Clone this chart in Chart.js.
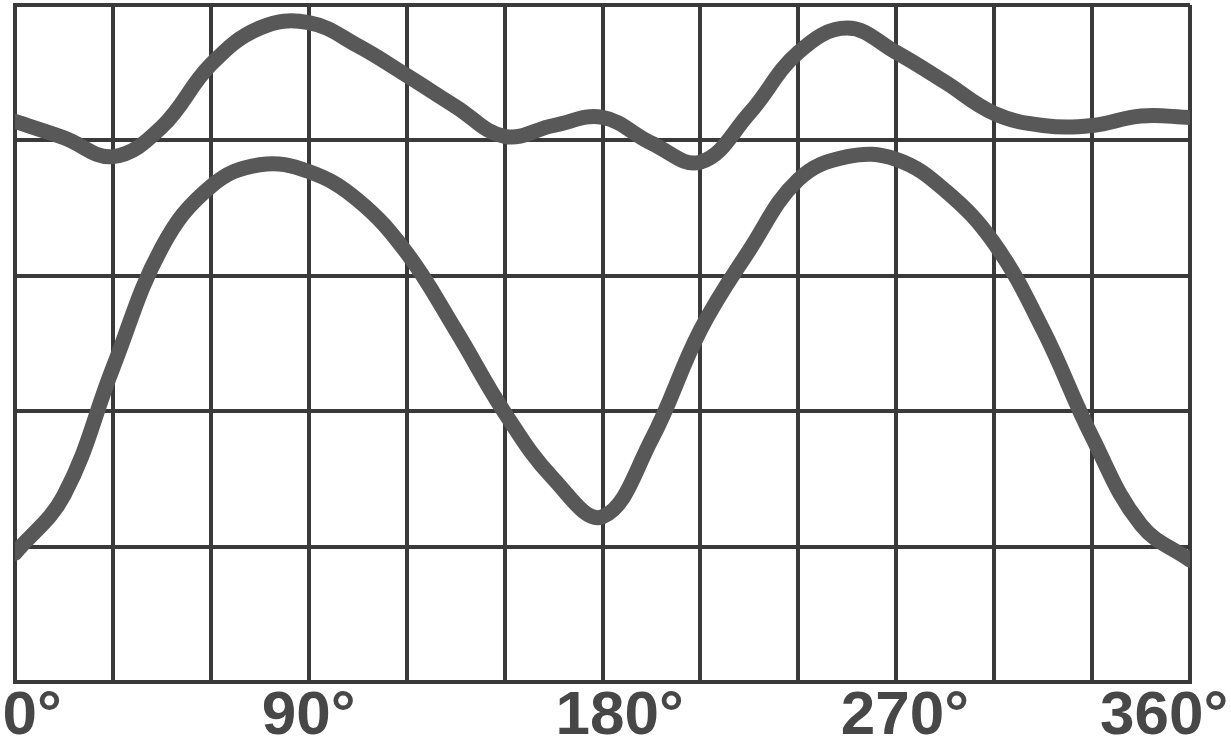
<!DOCTYPE html>
<html>
<head>
<meta charset="utf-8">
<script src="https://cdn.jsdelivr.net/npm/chart.js@4/dist/chart.umd.min.js"></script>
<style>
  html, body { margin: 0; padding: 0; background: #ffffff; }
  #wrap { position: relative; width: 1231px; height: 749px; }
</style>
</head>
<body>
<div id="wrap"><canvas id="c"></canvas></div>
<script>
// Angle (degrees) of each sampled point
const angles = [0, 15, 30, 45, 60, 75, 90, 105, 120, 135, 150, 165, 180,
                195, 210, 225, 240, 255, 270, 285, 300, 315, 330, 345, 360];
// Upper curve (grid units, 0..5)
const upperCurve = [4.14, 4.02, 3.88, 4.10, 4.56, 4.83, 4.87, 4.70, 4.48, 4.25, 4.03, 4.11, 4.17,
                    3.98, 3.84, 4.20, 4.65, 4.83, 4.65, 4.43, 4.20, 4.11, 4.11, 4.18, 4.17];
// Lower curve (grid units, 0..5)
const lowerCurve = [0.95, 1.38, 2.32, 3.21, 3.66, 3.82, 3.77, 3.56, 3.17, 2.60, 1.99, 1.50, 1.22,
                    1.79, 2.60, 3.19, 3.71, 3.88, 3.86, 3.63, 3.24, 2.60, 1.81, 1.16, 0.90];
// X tick labels
const tickAngles = [0, 90, 180, 270, 360];
const tickLabels = ['0°', '90°', '180°', '270°', '360°'];

// styling: spaces used to nudge each label like in the scanned original
const labelNudge = [2, 0, 2, 1, -3];

const gridColor = '#3a3a3a';
const curveColor = '#585858';

const toPoints = (ys) => angles.map((a, i) => ({ x: a, y: ys[i] }));

new Chart(document.getElementById('c'), {
  type: 'line',
  data: {
    datasets: [
      { data: toPoints(upperCurve), borderColor: curveColor, borderWidth: 15,
        pointRadius: 0, tension: 0.4, fill: false, borderCapStyle: 'round', borderJoinStyle: 'round' },
      { data: toPoints(lowerCurve), borderColor: curveColor, borderWidth: 15,
        pointRadius: 0, tension: 0.4, fill: false, borderCapStyle: 'round', borderJoinStyle: 'round' }
    ]
  },
  options: {
    responsive: true,
    maintainAspectRatio: false,
    animation: false,
    layout: { padding: { left: 15, right: 41, top: 5, bottom: 0 } },
    plugins: { legend: { display: false }, tooltip: { enabled: false } },
    scales: {
      x: {
        type: 'linear', min: 0, max: 360,
        grid: { color: gridColor, lineWidth: 4, drawTicks: false },
        border: { color: gridColor, width: 4 },
        ticks: {
          stepSize: 30, autoSkip: false, maxRotation: 0, minRotation: 0, padding: 4,
          color: '#474747',
          font: { family: "'Liberation Sans Narrow', 'Liberation Sans', sans-serif", size: 62, weight: 'bold', lineHeight: 1 },
          callback: (v) => {
            const i = tickAngles.indexOf(v);
            if (i < 0) return '';
            const n = labelNudge[i];
            return n >= 0 ? ' '.repeat(n) + tickLabels[i] : tickLabels[i] + ' '.repeat(-n);
          }
        },
        afterFit: (scale) => { scale.height = 67; scale.paddingLeft = 0; scale.paddingRight = 0; }
      },
      y: {
        type: 'linear', min: 0, max: 5,
        grid: { color: gridColor, lineWidth: 4, drawTicks: false },
        border: { color: gridColor, width: 4 },
        ticks: { display: false, stepSize: 1 }
      }
    }
  }
});
</script>
</body>
</html>
